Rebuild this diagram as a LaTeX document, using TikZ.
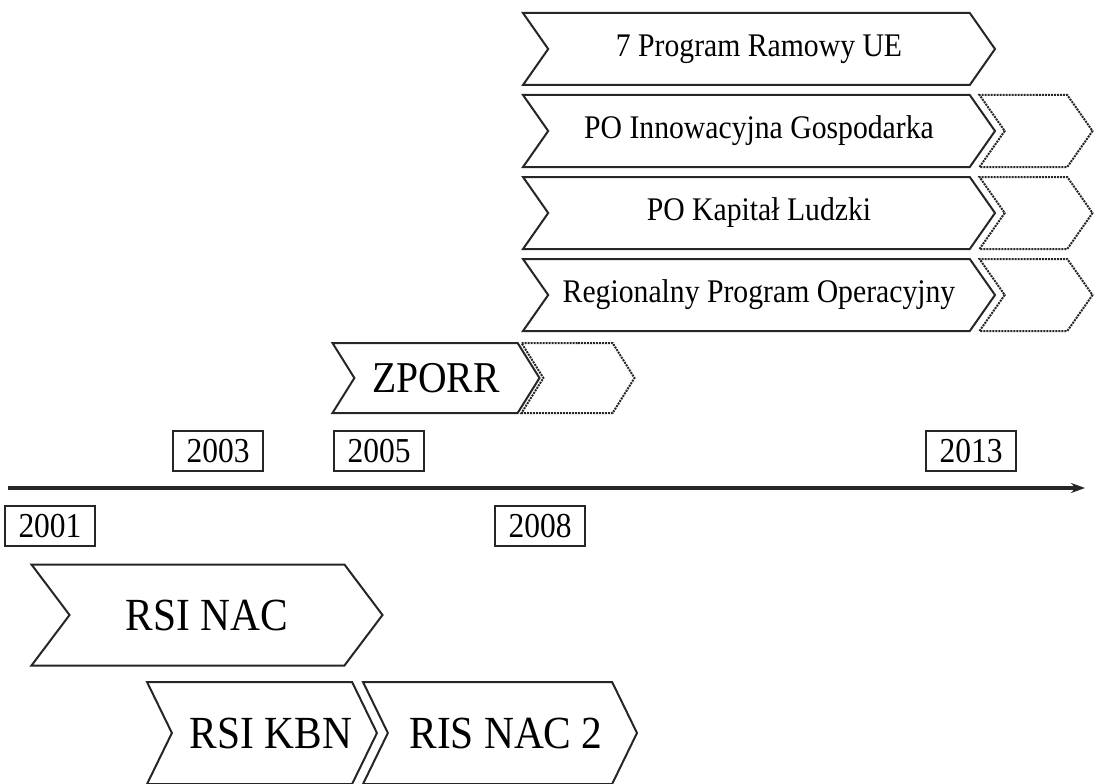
\documentclass[tikz,border=0pt]{standalone}
\usepackage{fontspec}
\setmainfont[FakeStretch=0.9]{Liberation Serif}
\usetikzlibrary{arrows.meta}
\usetikzlibrary{positioning}
\usetikzlibrary{shapes.symbols}
\tikzstyle{stage} = [draw=black!85, line width=2pt, signal, signal from=west, signal to=east, signal pointer angle=110, inner sep=0pt, minimum height=72pt, font=\fontsize{33}{40}\selectfont]
\tikzstyle{bigstage} = [stage, signal pointer angle=128, font=\fontsize{46}{54}\selectfont]
\tikzstyle{cont} = [draw=black!85, densely dotted, line width=2pt, signal, signal from=west, signal to=east, signal pointer angle=110, inner sep=0pt, minimum width=113pt, minimum height=72pt]
\tikzstyle{year} = [draw=black!85, line width=2pt, minimum width=90pt, minimum height=40pt, inner sep=0pt, font=\fontsize{35}{42}\selectfont]
\tikzstyle{arrow} = [draw=black!85, line width=3.5pt,-{Stealth[length=14pt,width=10pt]}]

\begin{document}
\begin{tikzpicture}[x=1pt,y=-1pt]
\useasboundingbox (0,0) rectangle (1096,784);
% programmes 2007-2013
\node[stage, minimum width=472pt] (fp7) at (759,49) {7 Program Ramowy UE};
\node[stage, minimum width=472pt, below=8pt of fp7] (poig) {PO Innowacyjna Gospodarka};
\node[stage, minimum width=472pt, below=8pt of poig] (pokl) {PO Kapitał Ludzki};
\node[stage, minimum width=472pt, below=8pt of pokl] (rpo) {Regionalny Program Operacyjny};
\node[cont, xshift=277pt] (poigx) at (poig) {};
\node[cont, xshift=277pt] (poklx) at (pokl) {};
\node[cont, xshift=277pt] (rpox) at (rpo) {};
% ZPORR
\node[stage, minimum width=207pt, minimum height=70pt, signal pointer angle=116, font=\fontsize{44}{52}\selectfont] (zporr) at (436,378) {ZPORR};
\node[cont, minimum height=70pt, signal pointer angle=116] (zporrx) at (578,378) {};
% time axis
\coordinate (ax0) at (8,488);
\coordinate (ax1) at (1085,488);
\draw[arrow] (ax0) -- (ax1);
\node[year] (y2001) at (50,526) {2001};
\node[year] (y2003) at (218,451) {2003};
\node[year] (y2005) at (379,451) {2005};
\node[year] (y2008) at (540,526) {2008};
\node[year] (y2013) at (971,451) {2013};
% strategies
\node[bigstage, minimum width=351pt, minimum height=101pt, signal pointer angle=106] (rsinac) at (207,615) {RSI NAC};
\node[bigstage, minimum width=221pt, minimum height=102pt] (rsikbn) at (262,733) {\hspace*{18pt}RSI KBN};
\node[bigstage, minimum width=274pt, minimum height=102pt] (risnac) at (500,733) {\hspace*{12pt}RIS NAC 2};
\end{tikzpicture}
\end{document}
